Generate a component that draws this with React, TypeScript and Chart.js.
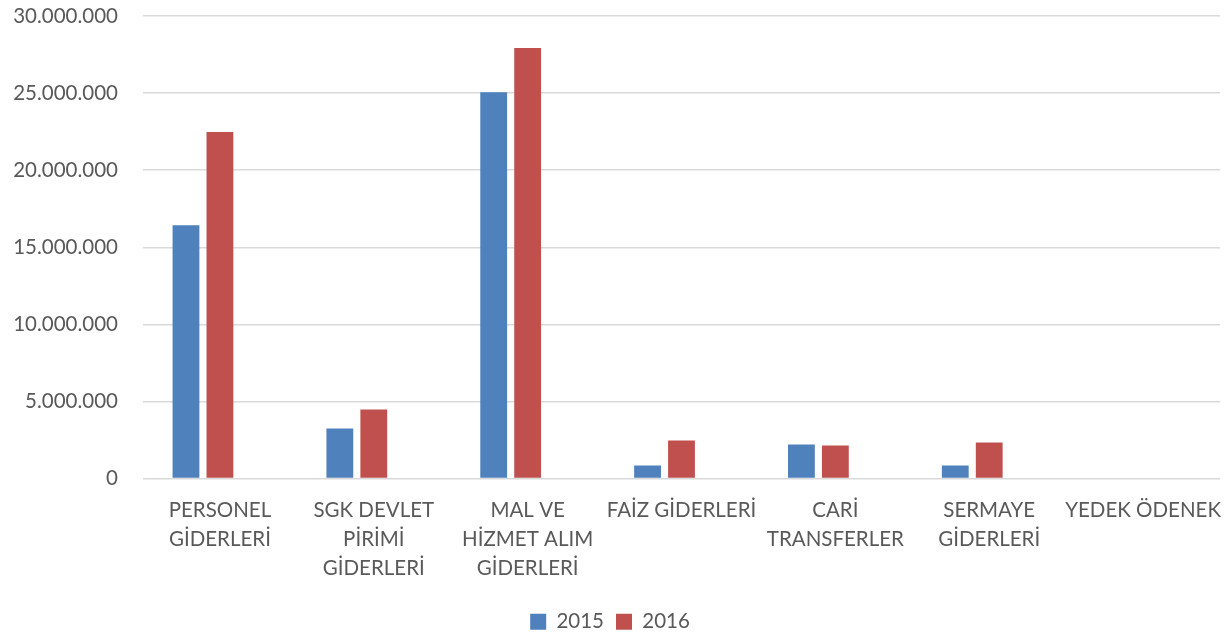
import React, { useEffect, useRef } from "react";
import { Chart, registerables } from "chart.js";

Chart.register(...registerables);

const categories: string[][] = [
  ["PERSONEL", "GİDERLERİ"],
  ["SGK DEVLET", "PİRİMİ", "GİDERLERİ"],
  ["MAL VE", "HİZMET ALIM", "GİDERLERİ"],
  ["FAİZ GİDERLERİ"],
  ["CARİ", "TRANSFERLER"],
  ["SERMAYE", "GİDERLERİ"],
  ["YEDEK ÖDENEK"],
];
const values2015 = [16430000, 3250000, 25060000, 840000, 2210000, 840000, 0];
const values2016 = [22470000, 4480000, 27920000, 2470000, 2140000, 2340000, 0];
const valuesHidden = [null, null, null, null, null, null, null];
const yTicks = [0, 5000000, 10000000, 15000000, 20000000, 25000000, 30000000];

const FONT = "Lato, 'Liberation Sans', sans-serif";
const TEXT = "#595959";
const FS = 20.5;

function fmt(v: number): string {
  const s = Math.round(v).toString();
  return s.replace(/\B(?=(\d{3})+(?!\d))/g, ".");
}

export default function App() {
  const ref = useRef<HTMLCanvasElement | null>(null);
  useEffect(() => {
    if (!ref.current) return;
    const chart = new Chart(ref.current, {
      type: "bar",
      data: {
        labels: categories,
        datasets: [
          { label: "2015", data: values2015, backgroundColor: "#4F81BD", borderWidth: 0 },
          { label: "2016", data: values2016, backgroundColor: "#C0504D", borderWidth: 0 },
          { label: "", data: valuesHidden as any, backgroundColor: "#9BBB59", borderWidth: 0 },
        ],
      },
      options: {
        animation: false,
        responsive: false,
        maintainAspectRatio: false,
        layout: { padding: { top: 16, right: 9, left: 0, bottom: -8 } },
        datasets: { bar: { categoryPercentage: 0.662, barPercentage: 0.79 } },
        plugins: {
          legend: {
            position: "bottom",
            labels: {
              color: TEXT,
              font: { family: FONT, size: FS },
              boxWidth: 16,
              boxHeight: 16,
              padding: 12,
              filter: (item: any) => item.text !== "",
            },
          },
          tooltip: { enabled: false },
        },
        scales: {
          x: {
            grid: { display: false, drawTicks: false },
            border: { display: false },
            ticks: {
              color: TEXT,
              font: { family: FONT, size: FS, lineHeight: 1.4 },
              padding: 18,
              maxRotation: 0,
              autoSkip: false,
            },
            afterFit: (scale: any) => {
              scale.height = 121;
              scale.paddingLeft = 0;
              scale.paddingRight = 0;
            },
          },
          y: {
            min: 0,
            max: 30000000,
            afterBuildTicks: (scale: any) => {
              scale.ticks = yTicks.map((v) => ({ value: v }));
            },
            grid: { color: "#d9d9d9", lineWidth: 1.5, drawTicks: false },
            border: { display: false },
            ticks: {
              color: TEXT,
              font: { family: FONT, size: FS },
              padding: 25,
              callback: (v: any) => fmt(Number(v)),
            },
            afterFit: (scale: any) => {
              scale.width = 143;
              scale.paddingTop = 0;
              scale.paddingBottom = 0;
            },
          },
        },
      },
    });
    return () => chart.destroy();
  }, []);
  return (
    <div style={{ position: "fixed", left: 0, top: 0, width: 1229, height: 634, background: "#fff" }}>
      <canvas ref={ref} width={1229} height={634} style={{ width: 1229, height: 634 }} />
    </div>
  );
}
